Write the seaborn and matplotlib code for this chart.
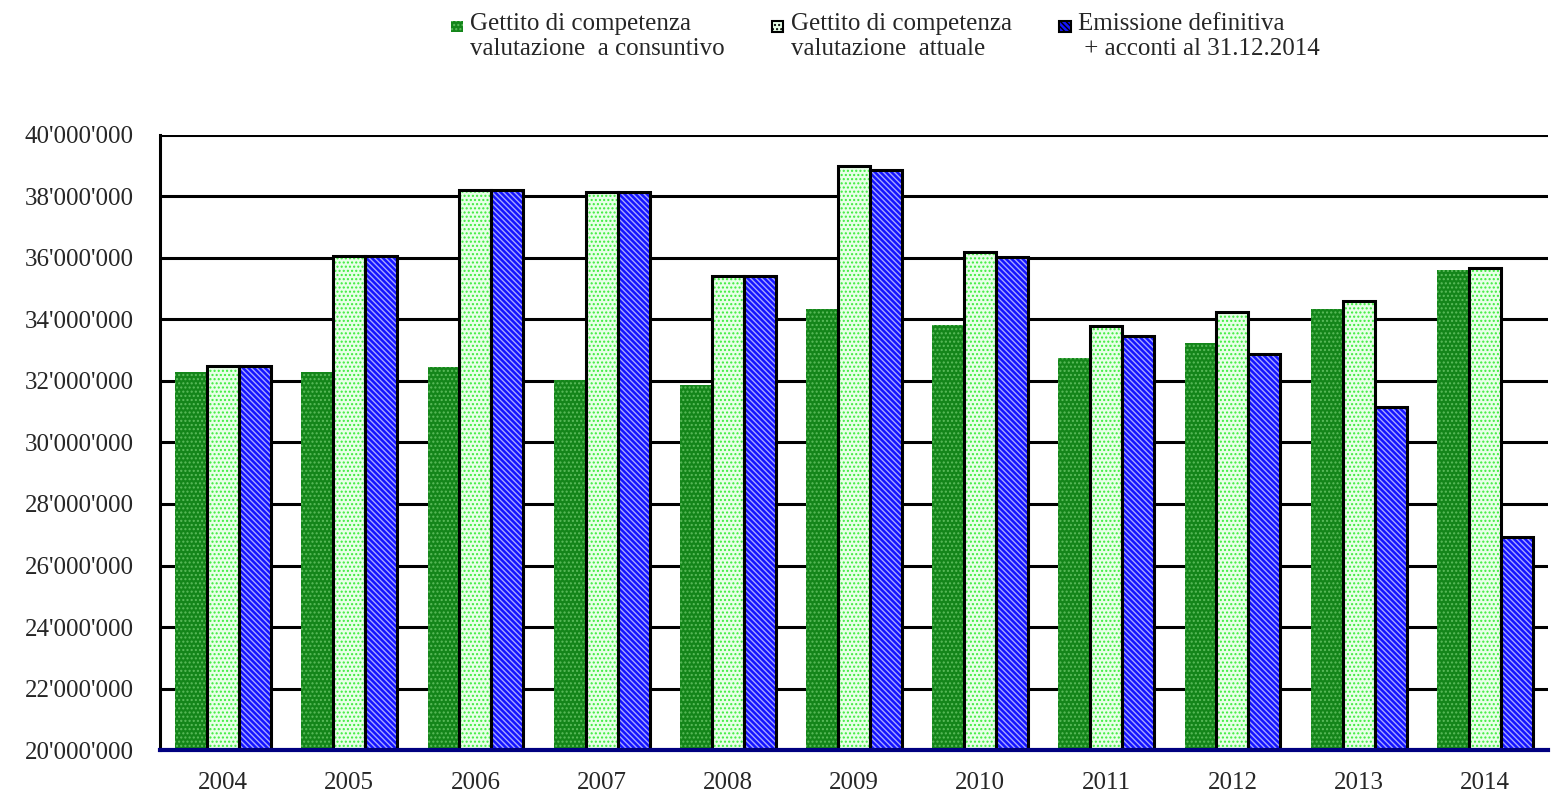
import matplotlib
matplotlib.use("Agg")
import matplotlib.pyplot as plt
import matplotlib.patches as mpatches
from matplotlib.legend_handler import HandlerPatch
from matplotlib.ticker import FuncFormatter, MultipleLocator
import numpy as np
import pandas as pd
import seaborn as sns

anni = ["2004", "2005", "2006", "2007", "2008", "2009", "2010", "2011", "2012", "2013", "2014"]
serie = [
    "Gettito di competenza\nvalutazione  a consuntivo",
    "Gettito di competenza\nvalutazione  attuale",
    "Emissione definitiva\n + acconti al 31.12.2014",
]
consuntivo = [32.28, 32.28, 32.47, 32.03, 31.86, 34.34, 33.82, 32.74, 33.25, 34.33, 35.61]
attuale = [32.49, 36.07, 38.21, 38.15, 35.42, 39.00, 36.20, 33.80, 34.25, 34.61, 35.66]
emissione = [32.49, 36.07, 38.21, 38.15, 35.42, 38.86, 36.02, 33.47, 32.88, 31.14, 26.92]

df = pd.DataFrame({
    "anno": anni * 3,
    "serie": np.repeat(serie, len(anni)),
    "valore": np.array(consuntivo + attuale + emissione) * 1e6,
})

sns.set_style("white")
plt.rcParams["font.family"] = ["Liberation Serif", "DejaVu Serif"]
plt.rcParams["hatch.linewidth"] = 1.0

fig = plt.figure(figsize=(15.51, 7.94), dpi=100)
ax = fig.add_axes([0.1032, 0.0554, 0.8948, 0.7746])

sns.barplot(data=df, x="anno", y="valore", hue="serie", hue_order=serie,
            palette=["#1e8c1e", "#e6ffe6", "#2020ff"], width=0.76, gap=0,
            legend=False, ax=ax, zorder=3)

# fill patterns: (facecolor, hatch, hatch colour, outlined)
stili = [
    ("#14851a", "....", "#5cbc5c", False),
    ("#e8ffe8", "....", "#3cec3c", True),
    ("#1414ff", "\\\\\\\\\\\\", "#a8a8ff", True),
]
for cont, (fc, hatch, hc, bordo) in zip(ax.containers, stili):
    for p in cont:
        p.set_facecolor(fc)
        p.set_hatch(hatch)
        p.set_edgecolor(hc)
        p.set_linewidth(0)
        if bordo:
            ax.add_patch(mpatches.Rectangle(p.get_xy(), p.get_width(), p.get_height(),
                                            fill=False, ec="black", lw=2.2, zorder=4))

ax.set_ylim(20e6, 40e6)
ax.set_xlim(-0.5, len(anni) - 0.5)
ax.yaxis.set_major_locator(MultipleLocator(2e6))
ax.yaxis.set_major_formatter(FuncFormatter(lambda v, p: f"{int(round(v)):,}".replace(",", "'")))
ax.grid(axis="y", color="black", lw=2.2)
ax.set_axisbelow(True)
ax.set_xlabel("")
ax.set_ylabel("")

for s in ["top", "right"]:
    ax.spines[s].set_visible(False)
ax.spines["left"].set_color("black")
ax.spines["left"].set_linewidth(2.2)
ax.spines["bottom"].set_color("#000080")
ax.spines["bottom"].set_linewidth(3)
ax.spines["bottom"].set_zorder(5)

ax.set_xticks(np.arange(-0.5, len(anni)), minor=True)
ax.tick_params(axis="x", which="major", length=0, labelsize=18, pad=16)
ax.tick_params(axis="x", which="minor", length=7, width=2.5, color="#000080", direction="out")
ax.tick_params(axis="y", length=7, width=2.2, color="black", labelsize=18, pad=12)


def quadratino(legend, orig_handle, xdescent, ydescent, width, height, fontsize):
    s = 0.45 * fontsize
    return mpatches.Rectangle((-xdescent, -ydescent + height - s), s, s)


handles = [
    mpatches.Patch(facecolor=st[0], hatch=st[1], edgecolor="black" if st[3] else st[2],
                   linewidth=1.5 if st[3] else 0)
    for st in stili
]
fig.legend(handles, serie, loc="upper center", bbox_to_anchor=(0.571, 1.012), ncol=3,
           frameon=False, fontsize=18, handlelength=0.45, handleheight=1.6,
           handletextpad=0.3, columnspacing=1.9,
           handler_map={mpatches.Patch: HandlerPatch(patch_func=quadratino)})

fig.savefig("out.png", dpi=100)
plt.close(fig)
